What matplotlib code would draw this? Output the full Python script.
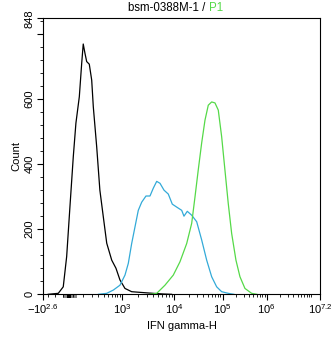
import numpy as np
import matplotlib
matplotlib.use("Agg")
from matplotlib import pyplot as plt
from matplotlib.patches import Rectangle

plt.rcParams['font.family'] = ['Liberation Sans', 'DejaVu Sans']
plt.rcParams['mathtext.fontset'] = 'custom'
plt.rcParams['mathtext.rm'] = 'Liberation Sans'
plt.rcParams['mathtext.it'] = 'Liberation Sans'

# control (black)
ctrl_x = [-300, -155, -99, -64, -32, 0, 25, 58, 82, 98, 117, 136, 167, 198, 220, 271,
          325, 392, 469, 604, 746, 907, 1144, 1542, 2230, 3960, 6160, 9000]
ctrl_y = [0, 3, 23, 116, 269, 423, 526, 607, 710, 769, 740, 715, 707, 658, 576, 453,
          320, 238, 157, 105, 80, 44, 18, 8, 6, 3, 1, 0]

# sample (cyan)
samp_x = [300, 469, 654, 907, 1144, 1327, 1542, 1786, 2068, 2404, 2906, 3468, 4014, 4666,
          5398, 6440, 7780, 9280, 11360, 14400, 16040, 18760, 23100, 29260, 37040, 46920,
          59420, 75240, 95320, 133900, 180000]
samp_y = [0, 3, 13, 28, 59, 95, 156, 207, 258, 283, 302, 302, 326, 347,
          341, 320, 308, 277, 268, 258, 240, 255, 243, 223, 167, 105,
          54, 23, 8, 3, 0]

# P1 (green)
p1_x = [3500, 4666, 6720, 9700, 13280, 18240, 23100, 27000, 31560, 37040, 43320, 50620,
        59420, 69440, 81200, 95320, 112700, 133900, 160000, 200200, 247000, 320800,
        455400, 600000]
p1_y = [0, 3, 28, 59, 100, 156, 218, 299, 383, 465, 535, 581,
        591, 588, 566, 484, 381, 279, 187, 105, 54, 18,
        3, 0]

xtick_vals = [-10**2.6, 1e3, 1e4, 1e5, 1e6, 10**7.2]
xtick_labels = [r'$\mathregular{-10^{2.6}}$', r'$\mathregular{10^{3}}$', r'$\mathregular{10^{4}}$',
                r'$\mathregular{10^{5}}$', r'$\mathregular{10^{6}}$', r'$\mathregular{10^{7.2}}$']
ytick_vals = [0, 200, 400, 600, 800, 848]
ytick_labels = ['0', '200', '400', '600', '', '848']

# display scale (asinh-like, anchored on the decade ticks)
W = 200.0
anchor_u = np.arcsinh(np.array(xtick_vals) / W)
anchor_p = np.array([0, 79, 131, 179.7, 223.7, 277.0])


def fwd(x):
    return np.interp(np.arcsinh(np.asarray(x, dtype=float) / W), anchor_u, anchor_p)


def inv(p):
    return W * np.sinh(np.interp(np.asarray(p, dtype=float), anchor_p, anchor_u))


fig = plt.figure(figsize=(3.34, 3.37), dpi=100)
ax = fig.add_axes([0.1287, 0.1267, 0.8293, 0.819])
ax.set_xscale('function', functions=(fwd, inv))

ax.plot(ctrl_x, ctrl_y, color='black', lw=0.9)
ax.plot(samp_x, samp_y, color='#33aad8', lw=0.9)
ax.plot(p1_x, p1_y, color='#55d948', lw=0.9)

ax.set_xlim(xtick_vals[0], xtick_vals[-1])
ax.set_ylim(0, 848)

ax.set_xticks(xtick_vals)
ax.set_xticklabels(xtick_labels)
minor_x = list(range(-300, 1000, 100))
for d in [3, 4, 5, 6]:
    minor_x += [k * 10**d for k in range(2, 10)]
minor_x.append(1e7)
ax.set_xticks([v for v in minor_x if v < 10**7.2], minor=True)

ax.set_yticks(ytick_vals)
ax.set_yticklabels(ytick_labels, rotation=90, va='center')
ax.set_yticks([v for v in range(40, 848, 40) if v % 200], minor=True)

ax.tick_params(which='major', length=4, width=0.8, labelsize=8, pad=2)
ax.tick_params(which='minor', length=2.5, width=0.6)
for s in ax.spines.values():
    s.set_linewidth(0.8)

ax.set_xlabel('IFN gamma-H', fontsize=8, labelpad=3)
ax.set_ylabel('Count', fontsize=8, labelpad=2)

# gate marker under the axis
x0 = fwd(-100) / 277
ax.add_patch(Rectangle((x0, -0.012), 0.05, 0.008, transform=ax.transAxes,
                       color='#888888', clip_on=False, lw=0))
ax.add_patch(Rectangle((x0 + 0.015, -0.013), 0.012, 0.01, transform=ax.transAxes,
                       color='black', clip_on=False, lw=0))

fig.text(0.625, 0.976, 'bsm-0388M-1 / ', ha='right', va='center', fontsize=8.3)
fig.text(0.625, 0.976, 'P1', ha='left', va='center', fontsize=8.3, color='#55d948')

fig.savefig('out.png', dpi=100)
